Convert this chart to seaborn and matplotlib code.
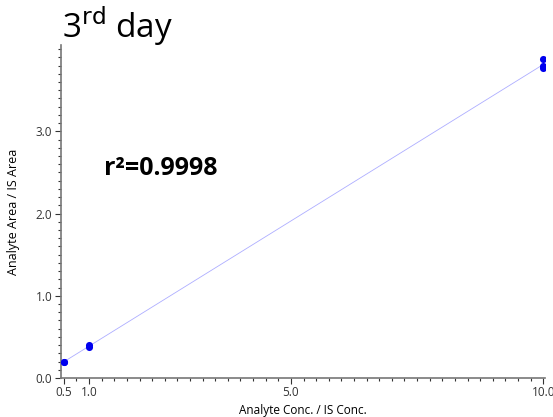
import numpy as np
import pandas as pd
import matplotlib
matplotlib.use("Agg")
import matplotlib.pyplot as plt
from matplotlib.ticker import MultipleLocator, FixedLocator
import seaborn as sns

# Calibration replicates: concentration ratio vs. area ratio
conc = [0.5, 0.5, 1.0, 1.0, 10.0, 10.0, 10.0]
area = [0.19, 0.20, 0.38, 0.40, 3.88, 3.79, 3.77]
x_ticks = [0.5, 1.0, 5.0, 10.0]
y_ticks = [0.0, 1.0, 2.0, 3.0]
r2_label = "r²=0.9998"

sns.set_theme(style="white")
plt.rcParams["font.family"] = ["Open Sans", "DejaVu Sans"]
plt.rcParams["text.color"] = "black"
plt.rcParams["axes.labelcolor"] = "black"

df = pd.DataFrame({"conc": conc, "area": area})
slope, intercept = np.polyfit(df["conc"], df["area"], 1)
fit = pd.DataFrame({"conc": [min(conc), max(conc)]})
fit["area"] = slope * fit["conc"] + intercept

fig = plt.figure(figsize=(5.53, 4.17), dpi=100)
ax = fig.add_axes([0.110, 0.0935, 0.876, 0.7985])

sns.lineplot(data=fit, x="conc", y="area", ax=ax, color="#9999ff",
             linewidth=0.6, alpha=0.8)
sns.scatterplot(data=df, x="conc", y="area", ax=ax, color="#0000ee",
                s=26, edgecolor="#0000ee", linewidth=0, zorder=5)

ax.set_xlim(0.44, 10.04)
ax.set_ylim(0.0, 4.05)
ax.xaxis.set_major_locator(FixedLocator(x_ticks))
ax.yaxis.set_major_locator(FixedLocator(y_ticks))
ax.xaxis.set_minor_locator(MultipleLocator(0.25))
ax.yaxis.set_minor_locator(MultipleLocator(0.1))
ax.set_xticklabels([f"{v:.1f}" for v in x_ticks])
ax.set_yticklabels([f"{v:.1f}" for v in y_ticks])

for side in ("top", "right"):
    ax.spines[side].set_visible(False)
for side in ("left", "bottom"):
    ax.spines[side].set_color("#777777")
    ax.spines[side].set_linewidth(1.2)

ax.tick_params(axis="both", which="major", direction="out", length=4,
               width=0.8, color="#333333", labelsize=8.5, pad=2,
               labelcolor="#333333", left=True, bottom=True)
ax.tick_params(axis="both", which="minor", direction="out", length=2.5,
               width=0.8, color="#333333", left=True, bottom=True)

ax.set_xlabel("Analyte Conc. / IS Conc.", fontsize=8.5, labelpad=3)
ax.set_ylabel("Analyte Area / IS Area", fontsize=9, labelpad=11)
ax.grid(False)

ax.text(0.09, 0.63, r2_label, transform=ax.transAxes, fontsize=18,
        fontweight="bold", ha="left", va="center")
fig.text(0.112, 0.886, "3$^{\\mathrm{rd}}$ day", fontsize=24,
         ha="left", va="bottom")

fig.savefig("out.png", dpi=100)
